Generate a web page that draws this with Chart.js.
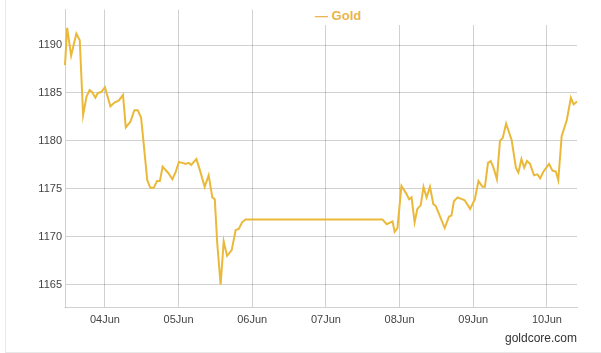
<!DOCTYPE html>
<html>
<head>
<meta charset="utf-8">
<script src="https://cdn.jsdelivr.net/npm/chart.js@4.4.0/dist/chart.umd.min.js"></script>
<style>
html, body { margin: 0; padding: 0; background: #fff; }
#wrap { position: relative; width: 601px; height: 353px; overflow: hidden; }
#frame { position: absolute; left: 5px; top: 0; width: 596px; height: 352px;
  border-left: 1px solid #e8e8e8; border-bottom: 1px solid #e8e8e8; }
#c { position: absolute; left: 0; top: 0; }
#legend { position: absolute; left: 285px; top: 0; width: 305px; height: 25px; background: #fff; }
#legend span { position: absolute; left: 30px; top: 8px; line-height: 15px;
  font: bold 13px "Liberation Sans", Arial, sans-serif; color: #e8b64a; white-space: nowrap; }
</style>
</head>
<body>
<div id="wrap">
  <div id="frame"></div>
  <canvas id="c" width="601" height="353"></canvas>
  <div id="legend"><span>— Gold</span></div>
</div>
<script>
// hours from 04Jun 00:00
var hours = [
  -13.0, -12.3, -11.0, -9.3, -8.2, -7.1, -6.0, -5.0, -4.2, -3.1,
  -2.3, -1.2, 0, 1.8, 3.1, 4.5, 5.9, 6.8, 8.3, 9.6,
  10.7, 11.8, 13.8, 14.8, 15.9, 17.0, 17.9, 18.8, 20.5, 22.0,
  23.0, 24.1, 25.2, 26.3, 27.3, 28.1, 29.8, 30.8, 32.5, 33.8,
  35.0, 35.8, 36.6, 37.7, 38.7, 39.8, 41.3, 42.6, 43.6, 44.7,
  45.8, 90.4, 91.8, 93.7, 94.4, 95.3, 96.6, 98.0, 99.1, 99.9,
  100.9, 101.8, 102.9, 103.8, 104.8, 105.9, 107.0, 107.8, 109.2, 110.7,
  112.1, 112.9, 113.7, 114.9, 116.5, 117.2, 119.0, 120.5, 121.7, 123.0,
  123.8, 124.8, 125.7, 126.6, 127.7, 128.7, 129.6, 130.7, 132.5, 133.9,
  134.7, 135.7, 136.6, 137.5, 138.5, 139.8, 140.9, 141.8, 142.9, 144.7,
  145.8, 146.9, 147.7, 148.8, 150.5, 151.8, 152.7, 153.8
];
var gold = [
  1187.9, 1191.8, 1188.9, 1191.2, 1190.5, 1182.7, 1184.6, 1185.3, 1185.1, 1184.5,
  1185.0, 1185.1, 1185.6, 1183.6, 1184.0, 1184.2, 1184.8, 1181.4, 1182.0, 1183.2,
  1183.2, 1182.4, 1175.9, 1175.1, 1175.1, 1175.8, 1175.8, 1177.3, 1176.7, 1176.0,
  1176.7, 1177.8, 1177.7, 1177.6, 1177.7, 1177.5, 1178.1, 1177.1, 1175.2, 1176.4,
  1174.1, 1173.9, 1169.3, 1165.0, 1169.5, 1168.0, 1168.6, 1170.7, 1170.8, 1171.5,
  1171.8, 1171.8, 1171.3, 1171.6, 1170.5, 1170.9, 1175.3, 1174.6, 1173.9, 1174.1,
  1171.5, 1172.9, 1173.3, 1175.2, 1174.1, 1175.2, 1173.4, 1173.2, 1172.1, 1170.9,
  1172.1, 1172.2, 1173.7, 1174.1, 1173.9, 1173.8, 1172.9, 1173.9, 1175.8, 1175.2,
  1175.2, 1177.7, 1177.9, 1177.2, 1176.0, 1180.0, 1180.3, 1181.8, 1180.1, 1177.2,
  1176.7, 1178.1, 1177.2, 1177.9, 1177.6, 1176.4, 1176.5, 1176.1, 1176.8, 1177.6,
  1176.9, 1176.8, 1175.9, 1180.5, 1182.2, 1184.5, 1183.8, 1184.1
];
var dayHours = [0, 24, 48, 72, 96, 120, 144];
var dayLabels = ['04Jun', '05Jun', '06Jun', '07Jun', '08Jun', '09Jun', '10Jun'];

var points = [];
for (var i = 0; i < hours.length; i++) {
    points.push({ x: hours[i], y: gold[i] });
}

Chart.defaults.font.family = '"Liberation Sans", Arial, sans-serif';
var gridColor = 'rgba(0,0,0,0.18)';

var ctx = document.getElementById('c').getContext('2d');
var chart = new Chart(ctx, {
    type: 'line',
    data: {
        datasets: [{
            label: 'Gold',
            data: points,
            borderColor: '#ebb93a',
            backgroundColor: '#ebb93a',
            borderWidth: 2,
            pointRadius: 0,
            tension: 0,
            fill: false,
            clip: false
        }]
    },
    options: {
        responsive: false,
        animation: false,
        layout: { padding: { left: 0, right: 24, top: 7, bottom: 2 } },
        plugins: {
            legend: { display: false },
            tooltip: { enabled: false },
            title: {
                display: true,
                text: 'goldcore.com',
                position: 'bottom',
                align: 'end',
                color: '#333',
                font: { size: 12, weight: 'normal' },
                padding: { top: 2, bottom: 5 }
            }
        },
        scales: {
            x: {
                type: 'linear',
                min: -13,
                max: 153.8,
                afterBuildTicks: function (s) {
                    s.ticks = dayHours.map(function (v) { return { value: v }; });
                },
                afterFit: function (s) { s.height = 22; },
                grid: { color: gridColor, drawTicks: false },
                border: { color: gridColor },
                ticks: {
                    autoSkip: false,
                    maxRotation: 0,
                    padding: 6,
                    color: '#444',
                    font: { size: 11 },
                    callback: function (v) { return dayLabels[dayHours.indexOf(v)]; }
                }
            },
            y: {
                min: 1162.6,
                max: 1193.7,
                afterFit: function (s) { s.width = 65; },
                grid: { color: gridColor, drawTicks: false },
                border: { color: gridColor },
                ticks: {
                    stepSize: 5,
                    includeBounds: false,
                    padding: 3,
                    color: '#444',
                    font: { size: 11 },
                    callback: function (v) { return String(v); }
                }
            }
        }
    }
});
</script>
</body>
</html>
